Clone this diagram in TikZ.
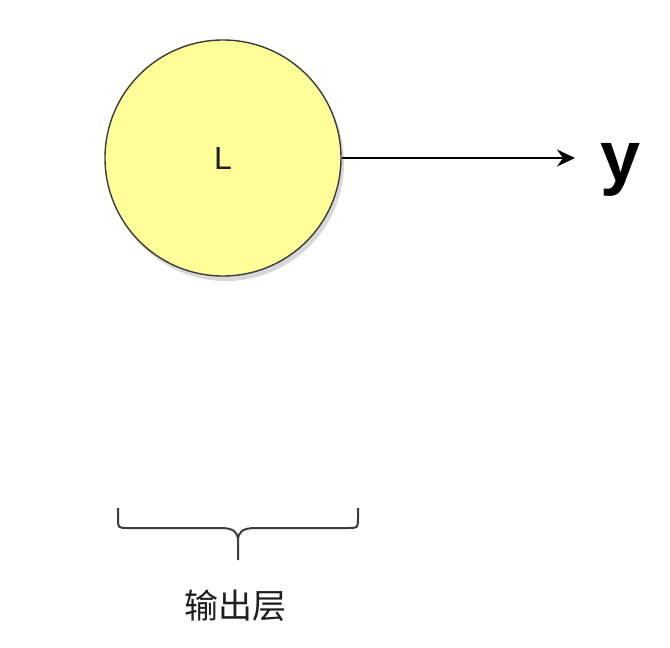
\documentclass[tikz,border=0pt]{standalone}
\usepackage{fontspec}
\setmainfont{Liberation Sans}
\newfontfamily\cjk{Noto Sans CJK SC}
\usetikzlibrary{positioning,arrows.meta,shadows}
\definecolor{colorwhite}  {RGB}{255,255,255}
\definecolor{colorneuron} {RGB}{255,255,153}
\definecolor{colorborder} {RGB}{ 60, 60, 60}
\definecolor{colortext}   {RGB}{ 30, 30, 30}

\begin{document}
\begin{tikzpicture}[
    x=1pt, y=-1pt,
    neuron/.style={circle,draw=colorborder,fill=colorneuron,line width=1.4pt,
        minimum size=236pt,inner sep=0pt,text=colortext,
        font={\fontsize{32}{32}\selectfont},
        drop shadow={opacity=0.3,shadow xshift=3pt,shadow yshift=-5pt}},
    output/.style={text=colorblack,inner sep=0pt,font={\fontsize{72}{72}\selectfont\bfseries}},
    layer/.style={text=colortext,font={\fontsize{34}{34}\selectfont\cjk}},
    links/.style={line width=1.8pt,-{Stealth[length=18pt,width=17pt,inset=6pt]}},
    bracket/.style={colorborder,line width=2pt},
]
    \colorlet{colorblack}{black}
    \useasboundingbox[fill=colorwhite] (0,0) rectangle (670,648);

    % Output neuron
    \node[neuron] at (223,158) (neuron) {L};

    % Output value
    \node[output,anchor=base west] at (600,181) (y) {y};
    \coordinate (tip) at (575,158);

    % Arrow
    \draw[links] (neuron.east) -- (tip); % neuron to y

    % Bracket under the layer
    \coordinate (left) at (118,508);
    \coordinate (right) at (358,508);
    \coordinate (peak) at (238,560);
    \draw[bracket] (left) -- (118,518) .. controls (118,528) .. (128,528)
        -- (220,528) .. controls (234,528) and (238,532) .. (238,541) -- (peak);
    \draw[bracket] (right) -- (358,518) .. controls (358,528) .. (348,528)
        -- (256,528) .. controls (242,528) and (238,532) .. (238,541);
    \node[layer] at (235,606) (label) {输出层};

\end{tikzpicture}
\end{document}
